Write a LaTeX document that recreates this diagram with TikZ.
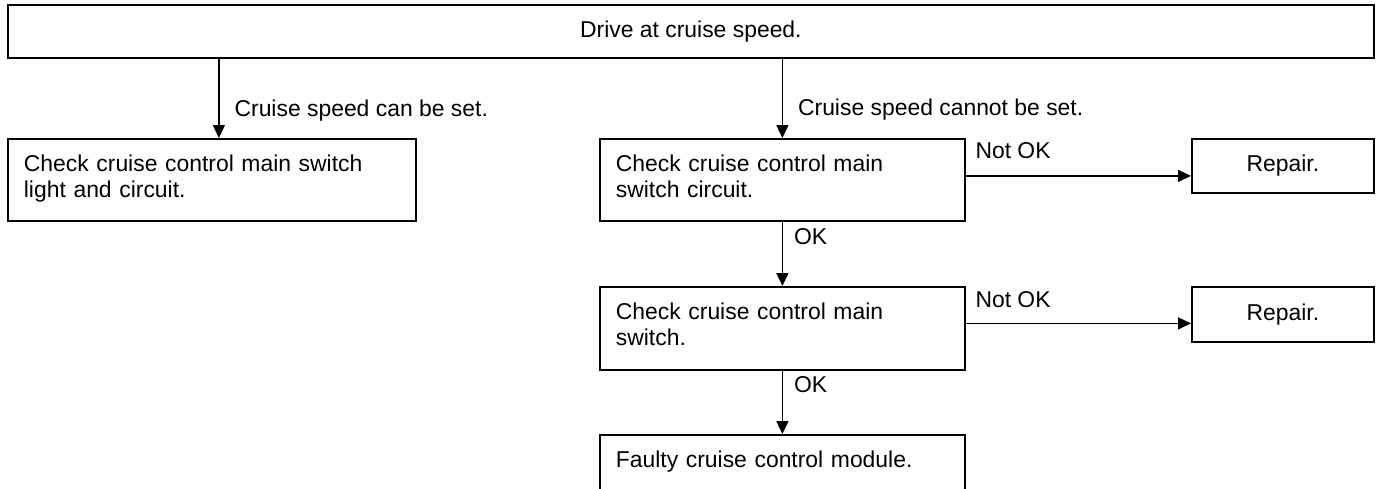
\documentclass[tikz,border=0pt]{standalone}
\usepackage{fontspec}
\setmainfont{Liberation Sans}
\usetikzlibrary{arrows.meta, positioning}
\tikzset{>={Triangle[length=6.5pt,width=6pt]}}
\tikzset{
  chk/.style={draw, line width=0.9pt, anchor=north west, align=left,
    inner xsep=8pt, inner ysep=0pt, text height=16.5pt},
  repbox/.style={draw, line width=0.9pt, anchor=north west,
    minimum width=91pt, minimum height=27pt},
  flow/.style={->, line width=0.7pt},
  lbl/.style={inner sep=0pt, anchor=base west}
}

\begin{document}
\begin{tikzpicture}[x=0.5pt, y=-0.5pt, font=\fontsize{11.45}{12.75}\selectfont]
    \useasboundingbox (0,0) rectangle (1378,488);

    % start of the check
    \node [draw, line width=0.9pt, anchor=north west, minimum width=683pt, minimum height=26.5pt] (drive) at (7,4) {Drive at cruise speed.};

    \node [chk, text width=188pt, text depth=24.5pt] (light) at (7,138) {Check cruise control main switch\\light and circuit.};
    \node [chk, text width=166.5pt, text depth=24.5pt] (circ) at (599,138) {Check cruise control main\\switch circuit.};
    \node [chk, text width=166.5pt, text depth=25pt] (sw) at (599,286) {Check cruise control main\\switch.};
    \node [chk, text width=166.5pt, text depth=25pt] (module) at (599,434) {Faulty cruise control module.};

    \node [repbox] (rep1) at (1191,138) {Repair.};
    \node [repbox, minimum height=27.5pt] (rep2) at (1191,286) {Repair.};

    % branches
    \draw [flow] ([xshift=3.5pt]light.north |- drive.south) -- ([xshift=3.5pt]light.north)
        node [lbl, pos=0.73, xshift=7.5pt] {Cruise speed can be set.};
    \draw [flow] (circ.north |- drive.south) -- (circ.north)
        node [lbl, pos=0.72, xshift=7.5pt] {Cruise speed cannot be set.};

    \draw [flow] (circ.south) -- (sw.north) node [lbl, pos=0.35, xshift=5.5pt] {OK};
    \draw [flow] (sw.south) -- (module.north) node [lbl, pos=0.35, xshift=5.5pt] {OK};

    \draw [flow] ([yshift=2pt]circ.east) -- ([yshift=2pt]circ.east -| rep1.west)
        node [lbl, pos=0, xshift=4.5pt, yshift=8.5pt] {Not OK};
    \draw [flow] ([yshift=2.5pt]sw.east) -- ([yshift=2.5pt]sw.east -| rep2.west)
        node [lbl, pos=0, xshift=4.5pt, yshift=8pt] {Not OK};
\end{tikzpicture}
\end{document}
